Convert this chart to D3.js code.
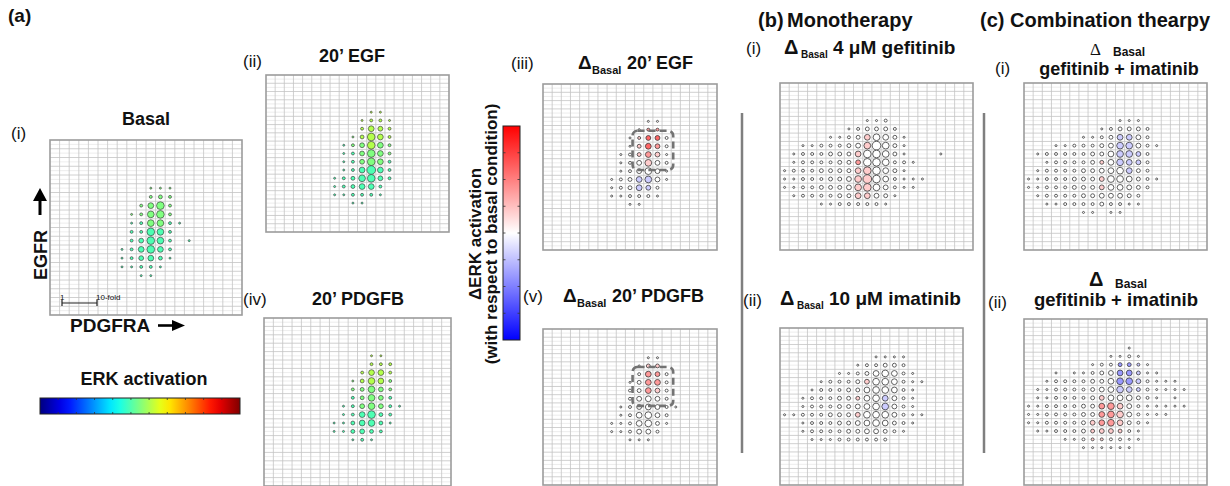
<!DOCTYPE html>
<html>
<head>
<meta charset="utf-8">
<script src="https://cdn.jsdelivr.net/npm/d3@7"></script>
<style>
  body { margin: 0; background: #fff; }
  svg { display: block; font-family: "Liberation Sans", Arial, sans-serif; }
</style>
</head>
<body>
<div class="holder"></div>
<script>
"use strict";

// bubble grids: one string per grid row, one char per column
// size: "." = no bubble, 1..9 = bubble size
// colour: ERK panels -> activation level, delta panels -> 5 = no change, >5 up, <5 down

const basalSize = ["", "", "", "", "",
  "..........111",
  "..........232",
  ".........2572",
  "........12672",
  "........126621",
  "........22762",
  "........24762.1",
  ".......125752",
  ".......124531",
  ".......11221",
  ".........11"];
const basalColor = ["", "", "", "", "",
  "..........555",
  "..........555",
  ".........5555",
  "........55555",
  "........445544",
  "........44444",
  "........44444.4",
  ".......444444",
  ".......444444",
  ".......44444",
  ".........44"];

const egfSize = ["", "", "", "",
  "...........11",
  "..........1221",
  "..........2542",
  ".........13752",
  "........124752",
  "........124752",
  "........124752",
  "........125852",
  ".......1236742",
  ".......123552",
  ".......112221",
  ".........11"];
const egfColor = ["", "", "", "",
  "...........66",
  "..........6666",
  "..........6666",
  ".........56666",
  "........455655",
  "........445555",
  "........445554",
  "........444444",
  ".......4444444",
  ".......444444",
  ".......444444",
  ".........44"];

const pdgfbSize = ["", "", "", "",
  "...........11",
  "...........222",
  "..........2552",
  ".........13652",
  ".........23642",
  ".........23642",
  "........1246421",
  "........125732",
  ".......1135631",
  ".......113432",
  ".........121"];
const pdgfbColor = ["", "", "", "",
  "...........66",
  "...........666",
  "..........6666",
  ".........56665",
  ".........55555",
  ".........45554",
  "........4455544",
  "........444444",
  ".......4444444",
  ".......444444",
  ".........444"];

const dEgfSize = ["", "", "", "",
  "...........11",
  "..........122",
  ".........12442",
  ".........13542",
  "........123541",
  "........124642",
  "........124641",
  ".......1235641",
  ".......123542",
  ".......112221",
  ".........11"];
const dEgfColor = ["", "", "", "",
  "...........55",
  "..........577",
  ".........56885",
  ".........56875",
  "........556765",
  "........555655",
  "........555555",
  ".......5554455",
  ".......555445",
  ".......555555",
  ".........55"];
const dEgfBox = [10, 13, 6, 9];

const dPdgfbSize = ["", "", "",
  "...........11",
  "..........133",
  "..........2542",
  ".........13552",
  ".........23542",
  ".........24542",
  "........1245421",
  "........125642",
  ".......1125631",
  ".......112442",
  ".........111"];
const dPdgfbColor = ["", "", "",
  "...........55",
  "..........566",
  "..........5775",
  ".........55775",
  ".........55765",
  ".........55555",
  "........5555555",
  "........555555",
  ".......5555555",
  ".......555555",
  ".........555"];
const dPdgfbBox = [10, 13, 5, 8];

const gefSize = ["", "", "", "",
  ".........112",
  ".......123332",
  ".....112356531",
  "..112223468631",
  ".1222333577631...1",
  ".12222334776221",
  "12223333577531",
  "1122233468752111",
  "112233346764211",
  ".122223355431",
  "....11222221"];
const gefColor = ["", "", "", "",
  ".........555",
  ".......555555",
  ".....555565555",
  "..555555565555",
  ".5555555655555...5",
  ".55555557555555",
  "55555555665555",
  "5555555566555555",
  "555555556655555",
  ".555555566555",
  "....55555555"];

const imaSize = ["", "", "",
  "..........1111",
  "........122332",
  "......112356521",
  "....122234665211",
  "...122233566521",
  "..1222333565421",
  "..1222334566421",
  "1122233346664211",
  "..1222334565321",
  "..122223344321",
  "...111222222"];
const imaColor = ["", "", "",
  "..........5555",
  "........555555",
  "......555555555",
  "....555556555555",
  "...555555555555",
  "..5555556554555",
  "..5555555554555",
  "5555555565555555",
  "..5555555555555",
  "..555555555555",
  "...555555555"];

const comb1Size = ["", "", "", "",
  "..........111",
  "........123332",
  "......11235542",
  "...112223466421",
  ".1222223356642",
  "..122223356542",
  ".1222233456532",
  "112223334665321",
  "11222333455432",
  ".122223344432",
  "..11222232211",
  "......11.11"];
const comb1Color = ["", "", "", "",
  "..........555",
  "........555555",
  "......55554455",
  "...555555544555",
  ".5555555554445",
  "..555555654445",
  ".5555555555455",
  "555555556555555",
  "55555555655555",
  ".555555555555",
  "..55555555555",
  "......55.55"];

const comb2Size = ["", "", "",
  "...........1",
  ".........1121",
  ".......1223321",
  "...1.1123455311",
  "..122223356642111",
  ".11222234565321111",
  ".11222234555321.1",
  "112222335654211111",
  "1122223356642111",
  "11222234565321",
  ".112223344321",
  "....112222211",
  "......111111"];
const comb2Color = ["", "", "",
  "...........5",
  ".........5555",
  ".......5553345",
  "...5.5555533455",
  "..555555553345555",
  ".55555555544455555",
  ".55555556555555.5",
  "555555557765555555",
  "5555555577655555",
  "55555556776555",
  ".555555666655",
  "....555665555",
  "......555555"];

const erkTicks = 11;
const deltaTicks = 8;

// ---- layout ----
const w = 1230;
const h = 486;
const panels = [
  { x: 50, y: 140, w: 192, h: 175, cols: 20, rows: 20, kind: "erk", size: basalSize, color: basalColor },
  { x: 266, y: 75, w: 183, h: 157, cols: 20, rows: 19, kind: "erk", size: egfSize, color: egfColor },
  { x: 264, y: 318, w: 187, h: 168, cols: 20, rows: 20, kind: "erk", size: pdgfbSize, color: pdgfbColor },
  { x: 543, y: 84, w: 174, h: 166, cols: 19, rows: 20, kind: "delta", size: dEgfSize, color: dEgfColor, box: dEgfBox },
  { x: 543, y: 329, w: 174, h: 156, cols: 19, rows: 19, kind: "delta", size: dPdgfbSize, color: dPdgfbColor, box: dPdgfbBox },
  { x: 780, y: 83, w: 193, h: 167, cols: 21, rows: 20, kind: "delta", size: gefSize, color: gefColor },
  { x: 780, y: 328, w: 183, h: 157, cols: 20, rows: 19, kind: "delta", size: imaSize, color: imaColor },
  { x: 1024, y: 83, w: 183, h: 167, cols: 20, rows: 20, kind: "delta", size: comb1Size, color: comb1Color },
  { x: 1024, y: 319, w: 183, h: 166, cols: 20, rows: 20, kind: "delta", size: comb2Size, color: comb2Color }
];

const jet = (t) => {
  const c = (v) => Math.round(255 * Math.max(0, Math.min(1, v)));
  return d3.rgb(c(1.5 - Math.abs(4 * t - 3)), c(1.5 - Math.abs(4 * t - 2)), c(1.5 - Math.abs(4 * t - 1))).formatHex();
};
// activation levels 0..9 sit in the middle part of the jet bar
const erkColor = d3.scaleSequential(jet).domain([-5, 15]);
const deltaColor = d3.scaleLinear().domain([0, 5, 10]).range(["#0000ff", "#ffffff", "#ff0000"]);
const radius = d3.scaleLinear().domain([1, 9]).range([1.0, 4.8]);

const svg = d3.select(".holder").append("svg").attr("width", w).attr("height", h);
const defs = svg.append("defs");

const drawPanel = (p) => {
  const gx = d3.scaleLinear().domain([0, p.cols]).range([p.x, p.x + p.w]);
  const gy = d3.scaleLinear().domain([0, p.rows]).range([p.y, p.y + p.h]);
  const g = svg.append("g");
  g.append("rect").attr("x", p.x).attr("y", p.y).attr("width", p.w).attr("height", p.h).attr("fill", "#fff");
  g.selectAll(".hl").data(d3.range(1, p.rows * 2)).enter().append("line")
    .attr("x1", p.x).attr("x2", p.x + p.w)
    .attr("y1", (d) => gy(d / 2)).attr("y2", (d) => gy(d / 2))
    .attr("stroke", (d) => (d % 2 ? "#e8e8e8" : "#c4c4c4")).attr("stroke-width", 0.8);
  g.selectAll(".v").data(d3.range(1, p.cols)).enter().append("line")
    .attr("x1", (d) => gx(d)).attr("x2", (d) => gx(d))
    .attr("y1", p.y).attr("y2", p.y + p.h)
    .attr("stroke", "#c4c4c4").attr("stroke-width", 0.8);
  g.append("rect").attr("x", p.x).attr("y", p.y).attr("width", p.w).attr("height", p.h)
    .attr("fill", "none").attr("stroke", "#9c9c9c").attr("stroke-width", 1.6);

  const cells = [];
  p.size.forEach((row, r) => {
    for (let c = 0; c < row.length; c++) {
      if (row[c] === ".") continue;
      const col = (p.color[r] || "")[c];
      cells.push({ r: r, c: c, s: +row[c], v: col && col !== "." ? +col : 5 });
    }
  });
  g.selectAll("circle").data(cells).enter().append("circle")
    .attr("cx", (d) => gx(d.c + 0.5))
    .attr("cy", (d) => gy(d.r + 0.5))
    .attr("r", (d) => radius(d.s))
    .attr("fill", (d) => (p.kind === "erk" ? erkColor(d.v) : deltaColor(d.v)))
    .attr("stroke", "#3a3a3a")
    .attr("stroke-width", p.kind === "erk" ? 0.65 : 0.8);

  if (p.box) {
    const b = p.box;
    g.append("rect")
      .attr("x", gx(b[0]) - 2).attr("y", gy(b[2]) - 3)
      .attr("width", gx(b[1] + 1) - gx(b[0]) + 4)
      .attr("height", gy(b[3] + 1) - gy(b[2]) + 6)
      .attr("rx", 5)
      .attr("fill", "none").attr("stroke", "#737373")
      .attr("stroke-width", 2.6).attr("stroke-dasharray", "7,4");
  }
};
panels.forEach(drawPanel);

// ---- text ----
const label = (x, y, txt, size, weight, anchor, family) => {
  return svg.append("text").attr("x", x).attr("y", y).text(txt)
    .attr("font-size", size + "px")
    .attr("font-weight", weight || "normal")
    .attr("text-anchor", anchor || "start")
    .attr("font-family", family || null)
    .attr("fill", "#111");
};

label(8, 22, "(a)", 19, "bold");
label(11, 139, "(i)", 17);
label(146, 125, "Basal", 18, "bold", "middle");
label(243, 67, "(ii)", 17);
label(352, 62, "20\u2019 EGF", 18, "bold", "middle");
label(243, 305, "(iv)", 17);
label(358, 305, "20\u2019 PDGFB", 18, "bold", "middle");

label(511, 69, "(iii)", 17);
label(578, 69, "\u0394", 19, "bold");
label(592, 74, "Basal", 11, "bold");
label(627, 69, "20\u2019 EGF", 18, "bold");
label(523, 302, "(v)", 17);
label(563, 302, "\u0394", 19, "bold");
label(577, 307, "Basal", 11, "bold");
label(612, 302, "20\u2019 PDGFB", 18, "bold");

label(758, 27, "(b)", 20, "bold");
label(787, 27, "Monotherapy", 20, "bold");
label(746, 54, "(i)", 17);
label(784, 54, "\u0394", 20, "bold");
label(801, 58, "Basal", 10, "bold");
label(833, 54, "4 \u03bcM gefitinib", 19, "bold");
label(743, 306, "(ii)", 17);
label(780, 305, "\u0394", 20, "bold");
label(797, 309, "Basal", 10, "bold");
label(829, 305, "10 \u03bcM imatinib", 19, "bold");

label(980, 27, "(c) Combination thearpy", 20, "bold");
label(995, 74, "(i)", 17);
label(1090, 55, "\u0394", 17, "normal", "start", "'Liberation Serif', 'DejaVu Serif', serif");
label(1113, 56, "Basal", 12, "bold");
label(1119, 75, "gefitinib + imatinib", 18, "bold", "middle");
label(988, 308, "(ii)", 17);
label(1089, 286, "\u0394", 20, "bold");
label(1115, 288, "Basal", 12, "bold");
label(1116, 306, "gefitinib + imatinib", 18.5, "bold", "middle");

// dividers
[742, 984].forEach((x) => {
  svg.append("line").attr("x1", x).attr("x2", x).attr("y1", 113).attr("y2", 453)
    .attr("stroke", "#7f7f7f").attr("stroke-width", 2.5);
});

// axis arrows for basal panel
svg.append("text").attr("transform", "translate(47,255) rotate(-90)")
  .attr("text-anchor", "middle").attr("font-size", "18px").attr("font-weight", "bold")
  .attr("fill", "#111").text("EGFR");
svg.append("line").attr("x1", 40).attr("x2", 40).attr("y1", 215).attr("y2", 198)
  .attr("stroke", "#000").attr("stroke-width", 3);
svg.append("path").attr("d", "M40,188 L47,201 L33,201 Z").attr("fill", "#000");
label(70, 332, "PDGFRA", 19, "bold");
svg.append("line").attr("x1", 158).attr("x2", 175).attr("y1", 325.5).attr("y2", 325.5)
  .attr("stroke", "#000").attr("stroke-width", 2.6);
svg.append("path").attr("d", "M185,325.5 L172,320 L172,331 Z").attr("fill", "#000");

// fold scale bar
label(60, 300, "1", 8);
label(96, 300, "10-fold", 8);
svg.append("path").attr("d", "M62,303 L97,303 M62,299.5 L62,306 M97,299.5 L97,306")
  .attr("stroke", "#222").attr("stroke-width", 1.2).attr("fill", "none");

// ERK activation colour bar
label(144, 385, "ERK activation", 18, "bold", "middle");
const erkGrad = defs.append("linearGradient").attr("id", "erk-grad");
d3.range(0, 1.0001, 0.05).forEach((t) => {
  erkGrad.append("stop").attr("offset", t * 100 + "%").attr("stop-color", jet(t));
});
const erkBar = { x: 40, y: 398, w: 200, h: 16 };
svg.append("rect").attr("x", erkBar.x).attr("y", erkBar.y).attr("width", erkBar.w).attr("height", erkBar.h)
  .attr("fill", "url(#erk-grad)").attr("stroke", "#222").attr("stroke-width", 1);
const erkScale = d3.scaleLinear().domain([0, erkTicks]).range([erkBar.x, erkBar.x + erkBar.w]);
svg.selectAll(".etick").data(d3.range(1, erkTicks)).enter().append("path")
  .attr("d", (d) => `M${erkScale(d)},${erkBar.y} v2 M${erkScale(d)},${erkBar.y + erkBar.h} v-2`)
  .attr("stroke", "#333").attr("stroke-width", 0.8);

// delta colour bar
const dBar = { x: 503, y: 126, w: 17, h: 214 };
const dGrad = defs.append("linearGradient").attr("id", "delta-grad")
  .attr("x1", "0%").attr("y1", "100%").attr("x2", "0%").attr("y2", "0%");
d3.range(0, 10.001, 1).forEach((v) => {
  dGrad.append("stop").attr("offset", v * 10 + "%").attr("stop-color", deltaColor(v));
});
svg.append("rect").attr("x", dBar.x).attr("y", dBar.y).attr("width", dBar.w).attr("height", dBar.h)
  .attr("fill", "url(#delta-grad)").attr("stroke", "#222").attr("stroke-width", 1);
const dScale = d3.scaleLinear().domain([0, deltaTicks]).range([dBar.y + dBar.h, dBar.y]);
svg.selectAll(".dtick").data(d3.range(1, deltaTicks)).enter().append("path")
  .attr("d", (d) => `M${dBar.x},${dScale(d)} h2.5 M${dBar.x + dBar.w},${dScale(d)} h-2.5`)
  .attr("stroke", "#333").attr("stroke-width", 0.8);
svg.append("text").attr("transform", "translate(481,234) rotate(-90)")
  .attr("text-anchor", "middle").attr("font-size", "17px").attr("font-weight", "bold")
  .attr("fill", "#111").text("\u0394ERK activation");
svg.append("text").attr("transform", "translate(497,234) rotate(-90)")
  .attr("text-anchor", "middle").attr("font-size", "17px").attr("font-weight", "bold")
  .attr("fill", "#111").text("(with respect to basal condition)");
</script>
</body>
</html>
